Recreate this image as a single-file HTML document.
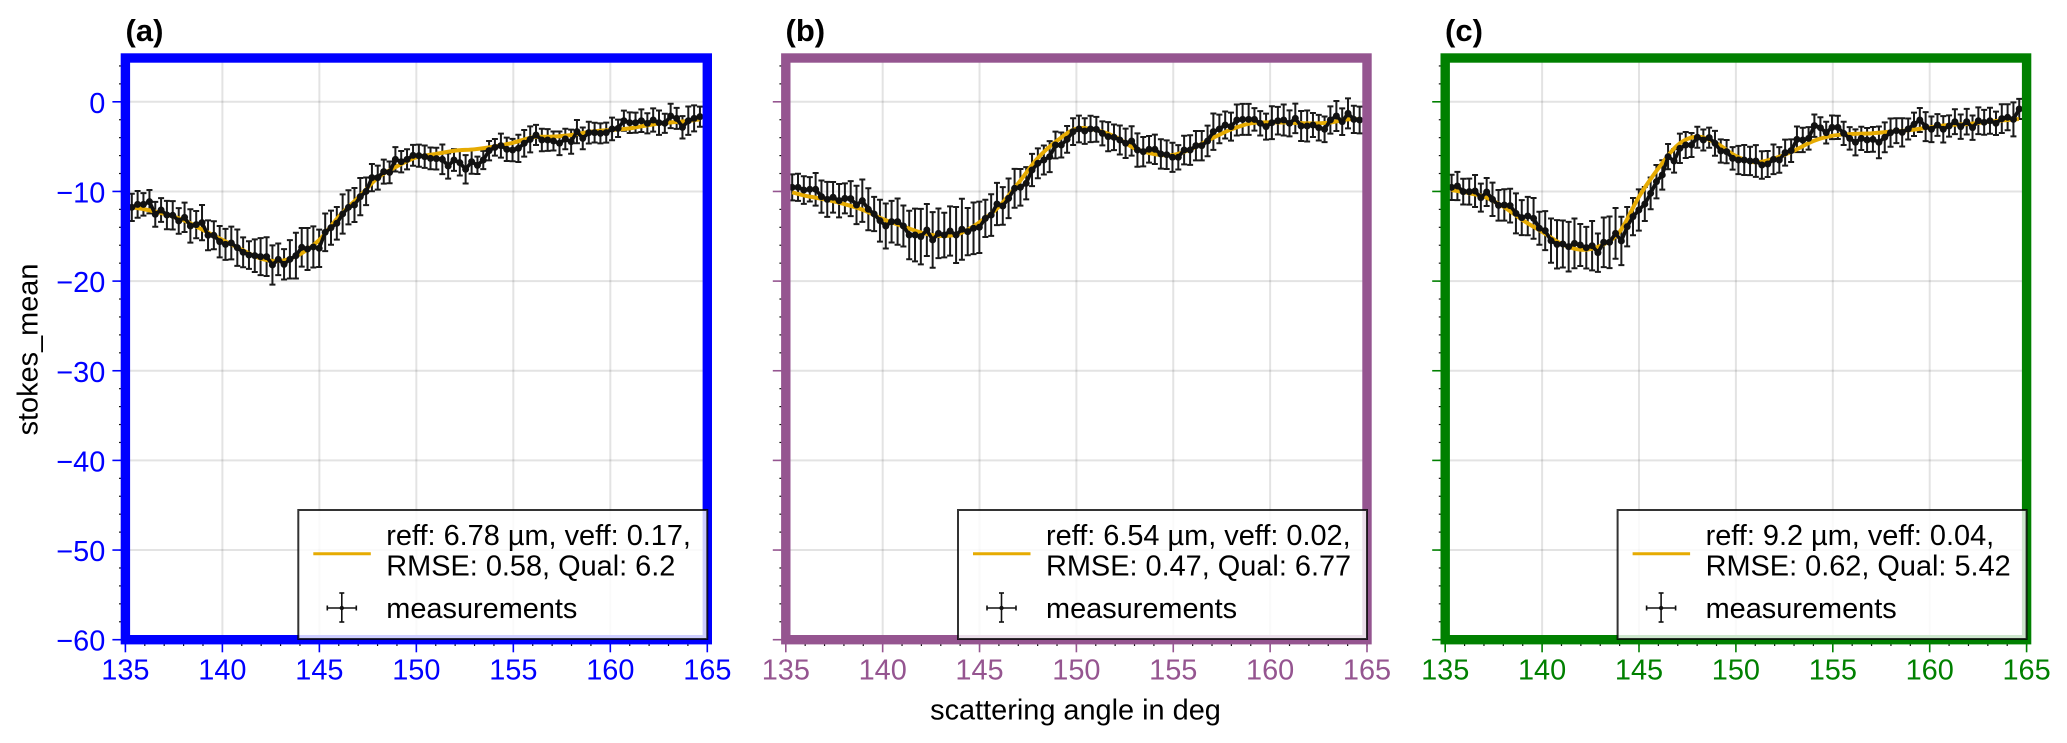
<!DOCTYPE html>
<html lang="en">
<head>
<meta charset="utf-8">
<title>Stokes mean versus scattering angle</title>
<style>
html,body{margin:0;padding:0;background:#fff;}
svg{display:block;}
text{font-family:"Liberation Sans",sans-serif;font-size:28.9px;fill:#000;}
.title{font-weight:bold;font-size:31px;}
</style>
</head>
<body>
<svg id="figure" xmlns="http://www.w3.org/2000/svg" width="2067" height="743" viewBox="0 0 2067 743">
  <g id="panel-a"></g>
  <g id="panel-b"></g>
  <g id="panel-c"></g>

  <text class="title" x="125.5" y="41">(a)</text>
  <text class="title" x="785.5" y="41">(b)</text>
  <text class="title" x="1445" y="41">(c)</text>

  <text x="37.7" y="349.5" text-anchor="middle" transform="rotate(-90 37.7 349.5)">stokes_mean</text>
  <text x="1075.5" y="719.3" text-anchor="middle">scattering angle in deg</text>

  <g transform="translate(298.3 510)">
    <rect x="0" y="0" width="409" height="129" fill="#fff" fill-opacity="0.8" stroke="#000" stroke-opacity="0.8" stroke-width="2"/>
    <line x1="15" x2="72.5" y1="43.7" y2="43.7" stroke="#e6ab02" stroke-width="3"/>
    <g stroke="#111" stroke-width="1.6">
      <line x1="29" x2="58" y1="98" y2="98"/><line x1="43.5" x2="43.5" y1="83" y2="112"/>
      <line x1="29" x2="29" y1="95.5" y2="100.5"/><line x1="58" x2="58" y1="95.5" y2="100.5"/>
      <line x1="41" x2="46" y1="83" y2="83"/><line x1="41" x2="46" y1="112" y2="112"/>
      <circle cx="43.5" cy="98" r="2.2" fill="#111" stroke="none"/>
    </g>
    <text x="88" y="35">reff: 6.78 µm, veff: 0.17,</text>
    <text x="88" y="65.7">RMSE: 0.58, Qual: 6.2</text>
    <text x="88" y="108">measurements</text>
  </g>

  <g transform="translate(958 510)">
    <rect x="0" y="0" width="409" height="129" fill="#fff" fill-opacity="0.8" stroke="#000" stroke-opacity="0.8" stroke-width="2"/>
    <line x1="15" x2="72.5" y1="43.7" y2="43.7" stroke="#e6ab02" stroke-width="3"/>
    <g stroke="#111" stroke-width="1.6">
      <line x1="29" x2="58" y1="98" y2="98"/><line x1="43.5" x2="43.5" y1="83" y2="112"/>
      <line x1="29" x2="29" y1="95.5" y2="100.5"/><line x1="58" x2="58" y1="95.5" y2="100.5"/>
      <line x1="41" x2="46" y1="83" y2="83"/><line x1="41" x2="46" y1="112" y2="112"/>
      <circle cx="43.5" cy="98" r="2.2" fill="#111" stroke="none"/>
    </g>
    <text x="88" y="35">reff: 6.54 µm, veff: 0.02,</text>
    <text x="88" y="65.7">RMSE: 0.47, Qual: 6.77</text>
    <text x="88" y="108">measurements</text>
  </g>

  <g transform="translate(1617.6 510)">
    <rect x="0" y="0" width="409" height="129" fill="#fff" fill-opacity="0.8" stroke="#000" stroke-opacity="0.8" stroke-width="2"/>
    <line x1="15" x2="72.5" y1="43.7" y2="43.7" stroke="#e6ab02" stroke-width="3"/>
    <g stroke="#111" stroke-width="1.6">
      <line x1="29" x2="58" y1="98" y2="98"/><line x1="43.5" x2="43.5" y1="83" y2="112"/>
      <line x1="29" x2="29" y1="95.5" y2="100.5"/><line x1="58" x2="58" y1="95.5" y2="100.5"/>
      <line x1="41" x2="46" y1="83" y2="83"/><line x1="41" x2="46" y1="112" y2="112"/>
      <circle cx="43.5" cy="98" r="2.2" fill="#111" stroke="none"/>
    </g>
    <text x="88" y="35">reff: 9.2 µm, veff: 0.04,</text>
    <text x="88" y="65.7">RMSE: 0.62, Qual: 5.42</text>
    <text x="88" y="108">measurements</text>
  </g>
</svg>

<script>
const xTickLabels = [135, 140, 145, 150, 155, 160, 165];
const xMinorTicks = [135,136,137,138,139,140,141,142,143,144,145,146,147,148,149,150,151,152,153,154,155,156,157,158,159,160,161,162,163,164,165];
const yTickLabels = [0, -10, -20, -30, -40, -50, -60];
const yMinorTicks = [4,2,0,-2,-4,-6,-8,-10,-12,-14,-16,-18,-20,-22,-24,-26,-28,-30,-32,-34,-36,-38,-40,-42,-44,-46,-48,-50,-52,-54,-56,-58,-60];

const angles = [135.33,135.63,135.93,136.24,136.54,136.84,137.14,137.44,137.75,138.05,
138.35,138.65,138.95,139.26,139.56,139.86,140.16,140.46,140.77,141.07,
141.37,141.67,141.97,142.28,142.58,142.88,143.18,143.48,143.79,144.09,
144.39,144.69,144.99,145.30,145.60,145.90,146.20,146.50,146.81,147.11,
147.41,147.71,148.01,148.32,148.62,148.92,149.22,149.52,149.83,150.13,
150.43,150.73,151.03,151.34,151.64,151.94,152.24,152.54,152.85,153.15,
153.45,153.75,154.05,154.36,154.66,154.96,155.26,155.56,155.87,156.17,
156.47,156.77,157.07,157.38,157.68,157.98,158.28,158.58,158.89,159.19,
159.49,159.79,160.09,160.40,160.70,161.00,161.30,161.60,161.91,162.21,
162.51,162.81,163.11,163.42,163.72,164.02,164.32,164.62];

const meanA = [-11.77,-11.44,-11.44,-11.14,-12.55,-12.07,-12.63,-12.66,-13.29,-12.89,
-13.85,-13.70,-13.48,-14.89,-14.89,-15.60,-15.90,-15.75,-16.27,-16.79,
-17.09,-17.16,-17.27,-17.27,-18.20,-17.57,-18.13,-17.57,-17.16,-16.23,
-16.42,-16.19,-16.34,-14.56,-14.04,-13.55,-12.51,-11.77,-11.51,-10.58,
-9.99,-8.46,-8.46,-7.79,-7.87,-6.42,-6.68,-6.42,-5.97,-6.01,
-6.12,-6.31,-6.34,-6.42,-7.16,-6.49,-6.79,-7.53,-6.68,-7.09,
-6.49,-5.45,-5.08,-4.89,-5.30,-5.38,-5.19,-4.63,-4.19,-3.70,
-4.26,-4.26,-4.37,-4.63,-4.15,-4.45,-3.33,-4.08,-3.44,-3.44,
-3.52,-3.44,-3.03,-2.96,-2.11,-2.33,-2.33,-2.11,-2.40,-2.03,
-2.33,-2.40,-1.58,-1.85,-2.85,-2.11,-1.85,-1.66];
const errA = [1.52,1.49,1.25,1.30,1.39,1.32,1.58,1.58,1.43,1.64,
1.86,1.52,1.97,1.67,1.56,1.75,1.73,1.82,2.03,1.67,
1.54,1.82,2.06,2.16,2.19,1.77,1.69,2.14,2.55,2.16,
2.34,2.29,2.08,2.10,1.90,1.82,2.19,1.90,1.90,2.08,
1.54,1.52,1.34,1.34,1.21,1.36,1.19,1.12,1.17,1.23,
1.25,1.21,1.21,1.65,1.41,1.21,1.43,1.58,1.34,0.97,
1.02,1.08,0.93,1.34,1.30,1.25,1.52,1.49,1.45,1.12,
1.25,1.21,1.06,1.32,1.15,1.34,1.30,1.21,1.21,1.10,
1.12,1.12,1.26,0.97,1.12,1.15,1.12,1.26,1.12,1.30,
1.36,1.06,1.36,1.17,1.25,1.58,1.45,1.12];

const meanB = [-9.54,-9.54,-9.84,-9.76,-9.76,-10.58,-10.88,-10.65,-11.03,-10.77,
-10.80,-11.51,-11.03,-11.99,-12.51,-13.26,-13.85,-13.37,-13.37,-13.85,
-14.86,-14.86,-15.04,-14.30,-15.41,-14.67,-14.86,-14.41,-14.86,-14.22,
-14.48,-14.11,-14.00,-13.00,-12.63,-11.40,-11.62,-10.77,-9.65,-9.54,
-9.09,-7.61,-6.86,-6.49,-6.12,-4.82,-4.82,-4.19,-3.33,-3.03,
-3.26,-3.03,-3.07,-3.52,-3.89,-3.96,-4.26,-4.63,-4.37,-5.38,
-5.56,-5.30,-5.30,-5.82,-5.90,-6.19,-6.19,-5.38,-5.38,-4.89,
-4.89,-4.37,-3.33,-3.03,-2.59,-2.77,-2.03,-1.96,-1.96,-1.96,
-2.40,-2.77,-2.33,-2.11,-2.03,-2.40,-1.85,-2.70,-2.70,-2.59,
-2.89,-3.07,-2.03,-1.58,-2.22,-1.29,-1.96,-2.03];
const errB = [1.45,1.51,1.54,1.36,1.82,1.80,1.95,1.71,1.86,1.67,
1.95,2.14,2.36,2.34,1.91,2.34,2.51,2.32,2.58,2.29,
2.70,2.94,3.10,2.90,3.10,2.77,2.49,2.75,3.12,3.40,
2.64,2.88,2.86,2.08,2.32,2.36,2.10,2.21,2.17,2.04,
1.80,1.80,1.67,1.62,1.73,1.49,1.39,1.49,1.49,1.49,
1.43,1.47,1.39,1.34,1.62,1.43,1.62,1.64,1.64,1.86,
1.64,1.49,1.64,1.64,1.60,1.62,1.36,1.60,1.65,1.64,
1.64,1.71,2.03,1.60,1.51,1.56,1.73,1.73,1.73,1.26,
1.36,1.45,1.84,1.54,1.73,1.45,1.64,1.67,1.73,1.34,
1.43,1.43,1.52,1.67,1.49,1.67,1.52,1.49];

const meanC = [-9.54,-9.39,-10.02,-10.02,-9.95,-10.69,-10.06,-10.88,-11.55,-11.51,
-11.58,-12.44,-12.92,-12.74,-13.00,-14.11,-14.37,-15.49,-15.90,-15.86,
-16.16,-15.79,-15.97,-16.27,-16.05,-16.83,-15.67,-15.67,-14.67,-15.52,
-13.93,-12.81,-12.07,-11.40,-10.21,-8.91,-8.16,-6.12,-6.60,-5.19,
-4.82,-4.82,-3.96,-4.26,-4.00,-4.63,-5.49,-5.56,-6.31,-6.49,
-6.49,-6.60,-6.60,-7.05,-6.94,-6.42,-6.49,-5.67,-5.45,-4.19,
-4.26,-4.08,-2.66,-2.89,-3.44,-2.85,-2.85,-3.52,-4.08,-4.52,
-4.08,-4.26,-4.19,-4.52,-3.96,-3.44,-3.22,-3.41,-3.03,-2.51,
-2.03,-2.77,-3.07,-2.59,-3.07,-2.70,-2.22,-2.77,-2.22,-2.89,
-2.11,-2.29,-2.11,-2.40,-1.88,-1.73,-1.96,-0.80];
const errC = [1.41,1.58,1.43,1.45,1.78,1.56,1.56,1.86,1.71,1.75,
1.88,2.23,1.95,2.14,2.27,1.84,2.17,2.47,2.70,2.62,
2.77,2.77,2.34,2.32,2.75,2.14,2.77,2.88,2.83,2.70,
2.19,2.08,2.30,1.90,1.77,1.86,1.64,1.41,1.30,1.64,
1.45,1.34,1.17,1.17,1.12,1.39,1.30,1.30,1.25,1.58,
1.67,1.58,1.77,1.54,1.45,1.65,1.43,1.45,1.26,1.43,
1.36,1.25,1.25,1.17,1.21,1.32,1.30,1.30,1.25,1.45,
1.30,1.34,1.38,1.77,1.67,1.58,1.39,1.58,1.17,1.30,
1.34,1.62,1.43,1.21,1.47,1.19,1.39,1.36,1.43,1.36,
1.49,1.39,1.45,1.30,1.60,1.45,1.90,1.12];

const fitAngles = [135.33,136,137,138,139,140,141,142,143,144,145,146,147,148,149,150,151,152,153,154,155,156,157,158,159,160,161,162,163,164,164.6];
const fitA = [-11.77,-12.0,-12.5,-13.2,-14.3,-15.4,-16.5,-17.5,-17.75,-17.0,-15.4,-12.8,-10.7,-8.5,-7.2,-6.2,-5.82,-5.45,-5.30,-5.0,-4.56,-3.96,-3.89,-3.70,-3.33,-3.15,-2.96,-2.59,-2.33,-2.14,-1.96];
const fitB = [-10.1,-10.47,-10.88,-11.4,-12.07,-13.07,-13.85,-14.6,-14.97,-14.67,-13.44,-11.7,-9.09,-6.3,-4.34,-3.0,-3.15,-3.89,-5.19,-5.82,-5.93,-5.19,-4.08,-3.07,-2.40,-2.29,-2.33,-2.40,-2.33,-1.96,-1.96];
const fitC = [-9.84,-10.1,-10.58,-11.7,-13.2,-14.5,-15.85,-16.5,-16.08,-14.5,-10.58,-7.42,-4.82,-3.89,-4.63,-6.05,-6.75,-6.31,-5.45,-4.37,-3.78,-3.59,-3.52,-3.33,-3.15,-2.85,-2.59,-2.48,-2.22,-2.03,-1.92];

const NS = 'http://www.w3.org/2000/svg';
const X_MIN = 135, X_MAX = 165, Y_TOP = 5, Y_BOTTOM = -60;
const PLOT_TOP = 58, PLOT_BOTTOM = 639.7;

function yScale(v) {
  return 101.8 - v * 8.965;
}
function make(parent, tag, attrs) {
  const el = document.createElementNS(NS, tag);
  for (const k in attrs) el.setAttribute(k, attrs[k]);
  parent.appendChild(el);
  return el;
}
function smoothPath(xs, ys) {
  let d = 'M' + xs[0].toFixed(2) + ' ' + ys[0].toFixed(2);
  for (let i = 0; i < xs.length - 1; i++) {
    const i0 = Math.max(i - 1, 0), i3 = Math.min(i + 2, xs.length - 1);
    const c1x = xs[i] + (xs[i + 1] - xs[i0]) / 6, c1y = ys[i] + (ys[i + 1] - ys[i0]) / 6;
    const c2x = xs[i + 1] - (xs[i3] - xs[i]) / 6, c2y = ys[i + 1] - (ys[i3] - ys[i]) / 6;
    d += 'C' + c1x.toFixed(2) + ' ' + c1y.toFixed(2) + ' ' + c2x.toFixed(2) + ' ' + c2y.toFixed(2) + ' ' + xs[i + 1].toFixed(2) + ' ' + ys[i + 1].toFixed(2);
  }
  return d;
}

function drawPanel(id, left, right, color, mean, err, fit, showYLabels) {
  const g = document.getElementById(id);
  const xScale = function (v) { return left + (v - X_MIN) * (right - left) / (X_MAX - X_MIN); };

  xTickLabels.forEach(function (t) {
    if (t === X_MIN || t === X_MAX) return;
    const el = make(g, 'line', { x1: xScale(t), x2: xScale(t), y1: PLOT_TOP, y2: PLOT_BOTTOM, stroke: '#000', 'stroke-opacity': 0.11, 'stroke-width': 2 });
    
    
  });
  yTickLabels.forEach(function (t) {
    if (t === Y_BOTTOM) return;
    const el = make(g, 'line', { x1: left, x2: right, y1: yScale(t), y2: yScale(t), stroke: '#000', 'stroke-opacity': 0.11, 'stroke-width': 2 });
    
    
  });

  angles.forEach(function (a, i) {
    const x = xScale(a), y1 = yScale(mean[i] + err[i]), y2 = yScale(mean[i] - err[i]);
    const bar = make(g, 'path', {
      d: 'M' + x.toFixed(2) + ' ' + y1.toFixed(2) + 'V' + y2.toFixed(2) +
         'M' + (x - 3).toFixed(2) + ' ' + y1.toFixed(2) + 'H' + (x + 3).toFixed(2) +
         'M' + (x - 3).toFixed(2) + ' ' + y2.toFixed(2) + 'H' + (x + 3).toFixed(2),
      fill: 'none', stroke: '#1a1a1a', 'stroke-width': 2
    });
    
    
  });

  const fitPath = make(g, 'path', {
    d: smoothPath(fitAngles.map(xScale), fit.map(yScale)),
    fill: 'none', stroke: '#e6ab02', 'stroke-width': 4
  });
  
  

  const meanLine = make(g, 'polyline', {
    points: angles.map(function (a, i) { return xScale(a).toFixed(2) + ',' + yScale(mean[i]).toFixed(2); }).join(' '),
    fill: 'none', stroke: '#111', 'stroke-width': 3.6, 'stroke-linejoin': 'round'
  });
  
  

  angles.forEach(function (a, i) {
    const pt = make(g, 'circle', { cx: xScale(a).toFixed(2), cy: yScale(mean[i]).toFixed(2), r: 3.5, fill: '#111' });
    
    
  });

  xMinorTicks.forEach(function (t) {
    const el = make(g, 'line', { x1: xScale(t), x2: xScale(t), y1: PLOT_BOTTOM, y2: 646, stroke: '#111', 'stroke-width': 1.2 });
    
    
  });
  yMinorTicks.forEach(function (t) {
    const el = make(g, 'line', { x1: left - 6.4, x2: left, y1: yScale(t), y2: yScale(t), stroke: '#111', 'stroke-width': 1.2 });
    
    
  });

  xTickLabels.forEach(function (t) {
    const tick = make(g, 'line', { x1: xScale(t), x2: xScale(t), y1: PLOT_BOTTOM, y2: 652.3, stroke: color, 'stroke-width': 1.6 });
    
    
    const label = make(g, 'text', { x: xScale(t), y: 679.3, 'text-anchor': 'middle', style: 'fill:' + color });
    label.textContent = String(t);
    
    
  });
  yTickLabels.forEach(function (t) {
    const tick = make(g, 'line', { x1: left - 13, x2: left, y1: yScale(t), y2: yScale(t), stroke: color, 'stroke-width': 1.6 });
    
    
    if (showYLabels) {
      const label = make(g, 'text', { x: 105.3, y: yScale(t) + 11, 'text-anchor': 'end', style: 'fill:' + color });
      label.textContent = t < 0 ? '\u2212' + Math.abs(t) : String(t);
      
      
    }
  });

  const frame = make(g, 'rect', {
    x: left, y: PLOT_TOP, width: right - left, height: PLOT_BOTTOM - PLOT_TOP,
    fill: 'none', stroke: color, 'stroke-width': 9.4, 'stroke-linejoin': 'miter'
  });
  
  
}

drawPanel('panel-a', 125.4, 707.3, '#0000ff', meanA, errA, fitA, true);
drawPanel('panel-b', 785.8, 1367, '#955590', meanB, errB, fitB, false);
drawPanel('panel-c', 1445.2, 2026.6, '#008000', meanC, errC, fitC, false);
</script>
</body>
</html>
